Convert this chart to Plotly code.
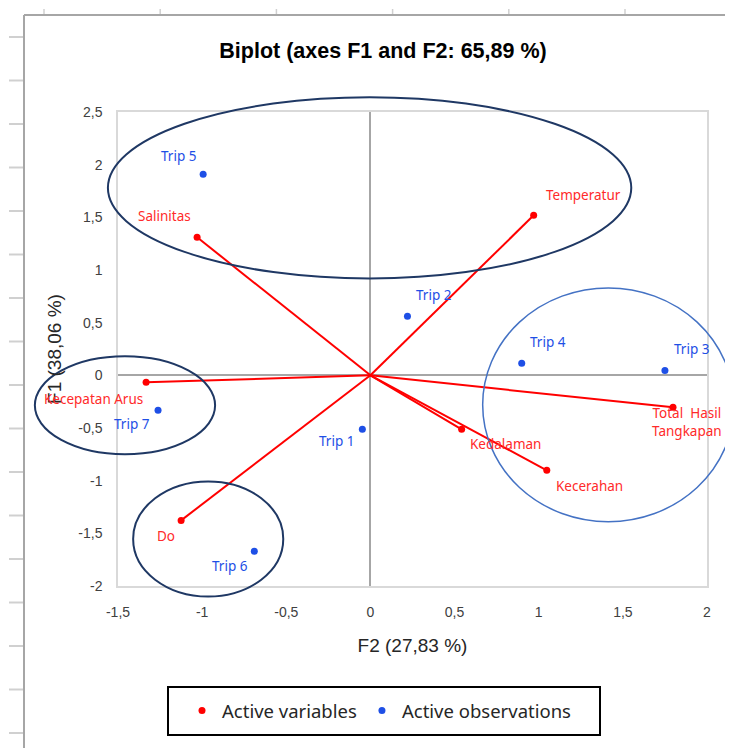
import plotly.graph_objects as go

# ---------------- data ----------------
var_names = ["Temperatur", "Salinitas", "Kecepatan Arus", "Do", "Kedalaman",
             "Kecerahan", "Total  Hasil<br>Tangkapan"]
var_f2 = [0.97, -1.03, -1.333, -1.125, 0.542, 1.048, 1.798]
var_f1 = [1.519, 1.311, -0.066, -1.377, -0.513, -0.902, -0.304]

obs_names = ["Trip 1", "Trip 2", "Trip 3", "Trip 4", "Trip 5", "Trip 6", "Trip 7"]
obs_f2 = [-0.048, 0.22, 1.75, 0.899, -0.994, -0.69, -1.262]
obs_f1 = [-0.513, 0.56, 0.047, 0.114, 1.909, -1.67, -0.332]

x_ticks = [-1.5, -1, -0.5, 0, 0.5, 1, 1.5, 2]
x_ticktext = ["-1,5", "-1", "-0,5", "0", "0,5", "1", "1,5", "2"]
y_ticks = [-2, -1.5, -1, -0.5, 0, 0.5, 1, 1.5, 2, 2.5]
y_ticktext = ["-2", "-1,5", "-1", "-0,5", "0", "0,5", "1", "1,5", "2", "2,5"]

# group ellipses (data coords): x0, x1, y0, y1
ellipses = [
    (-1.56, 1.55, 0.92, 2.64, "#1F3864"),
    (0.667, 2.16, -1.39, 0.83, "#4472C4"),
    (-1.994, -0.923, -0.75, 0.18, "#1F3864"),
    (-1.41, -0.518, -2.10, -1.007, "#1F3864"),
]

# label offsets (px) for each label centre relative to its point
var_off = [(50, 20), (-33, 21), (-53, -17), (-15, -16), (44, -15), (43, -16), (14, -15)]
obs_off = [(-26, -12), (27, 21), (27, 21), (26, 21), (-25, 18), (-24, -15), (-26, -14)]

XR = [-1.5, 2]
YR = [-2, 2.5]

OFF = 8  # page body margin
W, H = 725, 740
ML, MT = 118 - OFF, 112 - OFF
PR, PB = 707 - OFF, 586 - OFF          # plot right / bottom in figure px
MR, MB = W - PR, H - PB
PW, PH = PR - ML, PB - MT

def sx(px):  # screen px -> paper x
    return (px - OFF - ML) / PW

def sy(py):  # screen px -> paper y
    return (PB - (py - OFF)) / PH

RED = "#FF0000"
BLUE = "#1E4FE6"
LBL_FONT = "Noto Sans"
NARROW = "Liberation Sans Narrow, Arial Narrow, Liberation Sans, sans-serif"

fig = go.Figure()

# vectors from origin
lx, ly = [], []
for a, b in zip(var_f2, var_f1):
    lx += [0, a, None]
    ly += [0, b, None]
fig.add_trace(go.Scatter(x=lx, y=ly, mode="lines", line=dict(color=RED, width=2),
                         showlegend=False, hoverinfo="skip"))

fig.add_trace(go.Scatter(x=var_f2, y=var_f1, mode="markers", name="Active variables",
                         marker=dict(color=RED, size=7), text=var_names))
fig.add_trace(go.Scatter(x=obs_f2, y=obs_f1, mode="markers", name="Active observations",
                         marker=dict(color=BLUE, size=7), text=obs_names))

annotations = []
for n, a, b, (dx, dy) in zip(var_names, var_f2, var_f1, var_off):
    annotations.append(dict(x=a, y=b, xref="x", yref="y", text=n, showarrow=False,
                            xshift=dx, yshift=dy, xanchor="center", yanchor="middle",
                            font=dict(family=LBL_FONT, size=13.5, color="#FF2A2A")))
for n, a, b, (dx, dy) in zip(obs_names, obs_f2, obs_f1, obs_off):
    annotations.append(dict(x=a, y=b, xref="x", yref="y", text=n, showarrow=False,
                            xshift=dx, yshift=dy, xanchor="center", yanchor="middle",
                            font=dict(family=LBL_FONT, size=13.5, color=BLUE)))

shapes = []
for x0, x1, y0, y1, c in ellipses:
    shapes.append(dict(type="circle", xref="x domain", yref="y domain",
                       x0=(x0 - XR[0]) / (XR[1] - XR[0]), x1=(x1 - XR[0]) / (XR[1] - XR[0]),
                       y0=(y0 - YR[0]) / (YR[1] - YR[0]), y1=(y1 - YR[0]) / (YR[1] - YR[0]),
                       line=dict(color=c, width=2 if c == "#1F3864" else 1.5)))

# spreadsheet frame decoration
shapes.append(dict(type="line", xref="paper", yref="paper",
                   x0=sx(24), x1=sx(24), y0=sy(15), y1=sy(760),
                   line=dict(color="#A6A6A6", width=2)))
shapes.append(dict(type="line", xref="paper", yref="paper",
                   x0=sx(24), x1=sx(745), y0=sy(15), y1=sy(15),
                   line=dict(color="#A6A6A6", width=2)))
for k in range(17):
    py = 37 + 43.5 * k
    shapes.append(dict(type="line", xref="paper", yref="paper",
                       x0=sx(9), x1=sx(23), y0=sy(py), y1=sy(py),
                       line=dict(color="#D0D0D0", width=2)))
for k in range(6):
    px = 44 + 116.2 * k
    shapes.append(dict(type="line", xref="paper", yref="paper",
                       x0=sx(px), x1=sx(px), y0=sy(9), y1=sy(14),
                       line=dict(color="#D0D0D0", width=1.5)))
# legend box
shapes.append(dict(type="rect", xref="paper", yref="paper",
                   x0=sx(168), x1=sx(600), y0=sy(687), y1=sy(735),
                   line=dict(color="#000000", width=2)))

fig.update_layout(
    width=W, height=H,
    margin=dict(l=ML, r=MR, t=MT, b=MB),
    paper_bgcolor="white", plot_bgcolor="white",
    title=dict(text="<b>Biplot (axes F1 and F2: 65,89 %)</b>", x=(383 - OFF) / W, xref="container",
               xanchor="center", y=1 - (50 - OFF) / H, yref="container", yanchor="middle",
               font=dict(family=NARROW, size=21.5, color="#000000")),
    xaxis=dict(range=XR, tickvals=x_ticks, ticktext=x_ticktext, showgrid=False,
               zeroline=True, zerolinecolor="#A6A6A6", zerolinewidth=1.5,
               showline=True, mirror=True, linecolor="#D9D9D9", linewidth=1.5,
               ticks="", ticklabelstandoff=12,
               tickfont=dict(family=NARROW, size=14, color="#404040"),
               title=dict(text="F2 (27,83 %)", standoff=20,
                          font=dict(family=NARROW, size=19, color="#262626"))),
    yaxis=dict(range=YR, tickvals=y_ticks, ticktext=y_ticktext, showgrid=False,
               zeroline=True, zerolinecolor="#A6A6A6", zerolinewidth=1.5,
               showline=True, mirror=True, linecolor="#D9D9D9", linewidth=1.5,
               ticks="", ticklabelstandoff=11,
               tickfont=dict(family=NARROW, size=14, color="#404040"),
               title=dict(text="F1 (38,06 %)", standoff=12,
                          font=dict(family=NARROW, size=19, color="#262626"))),
    legend=dict(orientation="h", x=sx(182), y=sy(711),
                xanchor="left", yanchor="middle", bgcolor="rgba(0,0,0,0)", borderwidth=0,
                font=dict(family="Noto Sans", size=18.5, color="#262626")),
    annotations=annotations,
    shapes=shapes,
    separators=", ",
)

fig.write_html("out.html")
